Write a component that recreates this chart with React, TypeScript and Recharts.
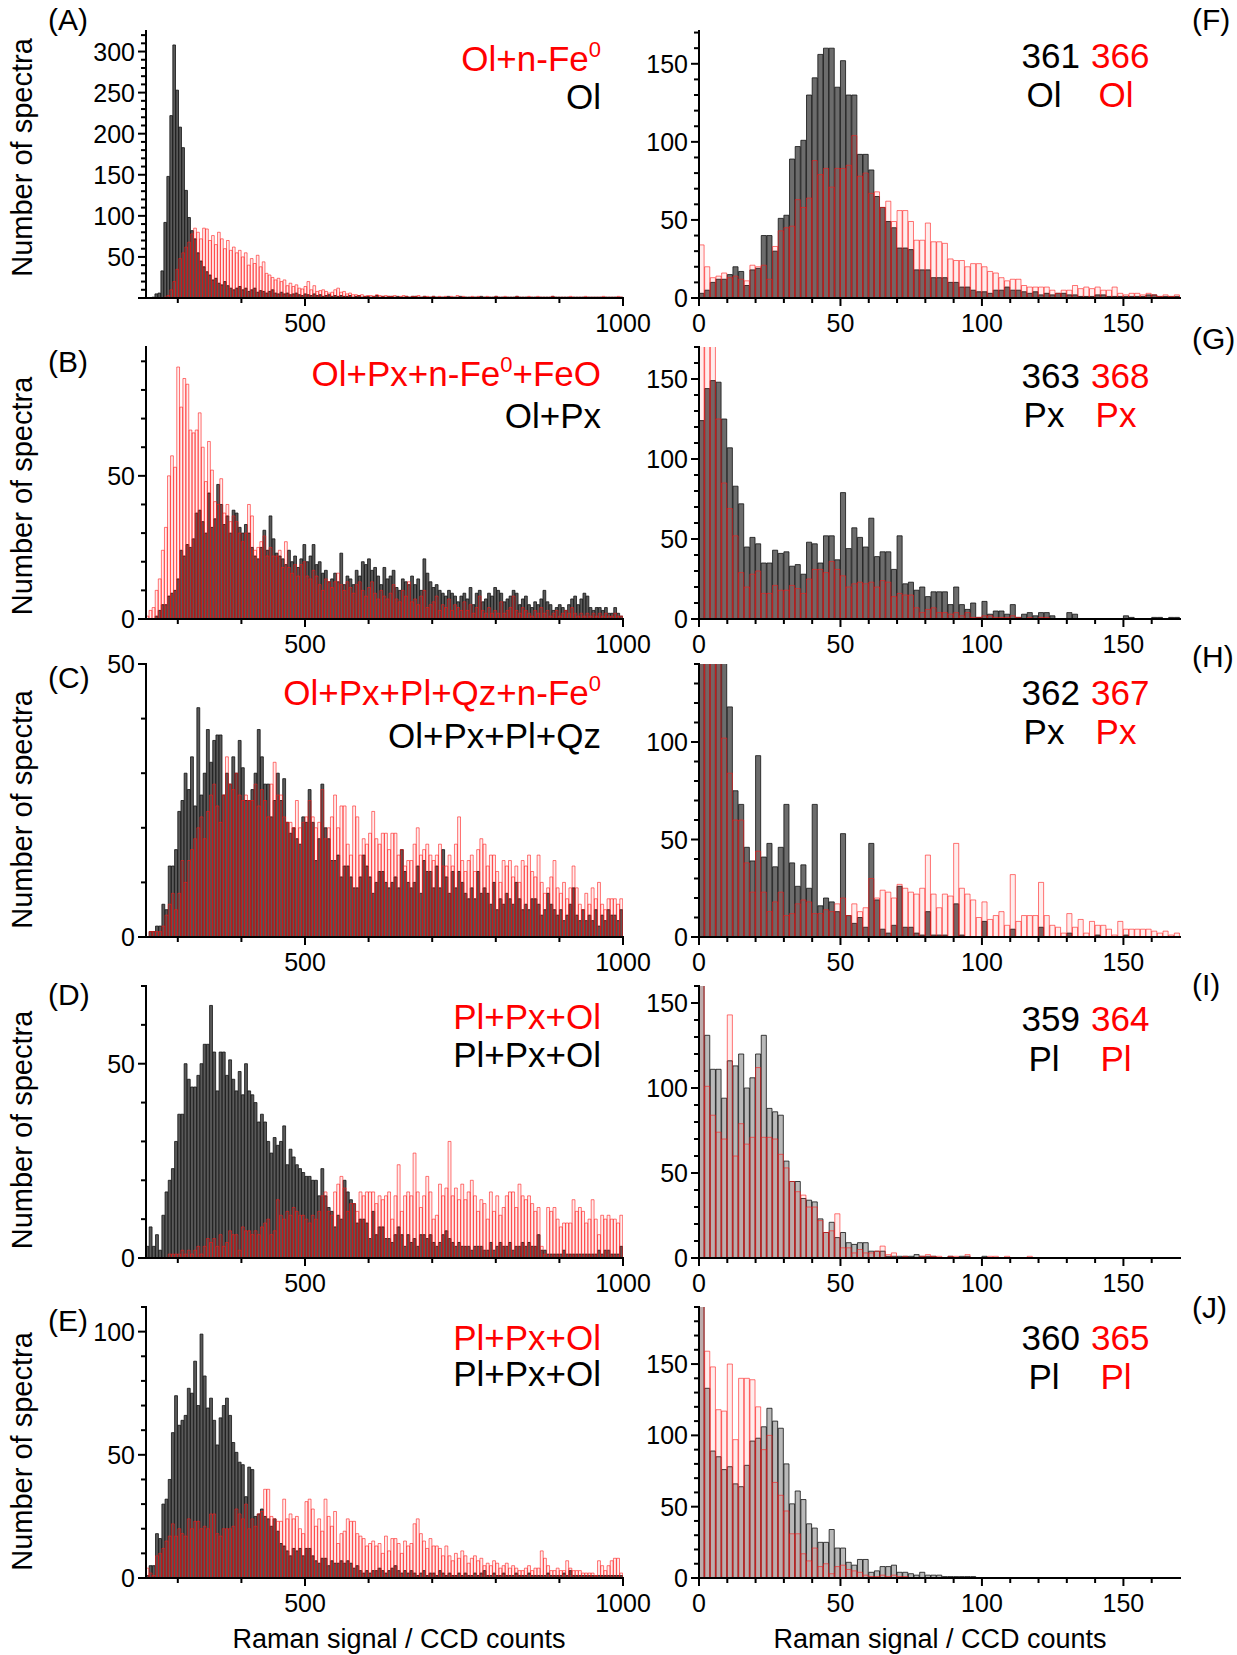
import React from "react";
import { ComposedChart, Bar, XAxis, YAxis } from "recharts";

const FONT = "'Liberation Sans', Arial, Helvetica, sans-serif";

// ---------------- data ----------------
// x ranges of the panels (bins split each range evenly)
const leftRange = [250, 1000];
const rightRange = [0, 170];

// (A) Ol / Ol+n-Fe0
const aBlack = [
  0, 0, 1, 5, 6, 33, 92, 148, 222, 308,
  253, 208, 183, 131, 98, 82, 72, 55, 45, 38,
  32, 28, 22, 24, 18, 16, 20, 15, 12, 10,
  12, 14, 10, 12, 8, 10, 12, 7, 9, 8,
  6, 8, 10, 6, 5, 7, 5, 6, 4, 5,
  6, 4, 3, 5, 4, 3, 5, 3, 4, 2,
  3, 4, 2, 3, 2, 3, 2, 2, 3, 1,
  2, 3, 1, 2, 2, 1, 2, 3, 1, 2,
  1, 2, 2, 1, 2, 1, 1, 2, 1, 2,
  2, 1, 1, 2, 1, 1, 2, 1, 1, 1,
  1, 2, 1, 1, 1, 2, 1, 1, 1, 1,
  1, 1, 2, 1, 1, 1, 1, 2, 1, 1,
  1, 1, 1, 1, 2, 1, 1, 1, 1, 1,
  1, 1, 1, 1, 1, 1, 2, 1, 1, 1,
  1, 1, 1, 1, 1, 1, 1, 1, 1, 1,
  1, 1, 1, 1, 1, 1, 1, 1, 1, 1,
];
const aRed = [
  0, 0, 0, 0, 0, 0, 1, 3, 10, 20,
  35, 48, 55, 62, 68, 78, 85, 80, 72, 85,
  84, 70, 76, 65, 80, 72, 60, 70, 58, 62,
  55, 58, 50, 55, 40, 48, 42, 52, 38, 44,
  30, 28, 25, 22, 24, 20, 22, 15, 18, 14,
  16, 12, 11, 14, 20, 10, 15, 8, 9, 10,
  8, 6, 7, 10, 12, 7, 8, 5, 6, 4,
  4, 3, 4, 2, 3, 3, 2, 4, 3, 2,
  3, 2, 2, 3, 1, 2, 3, 2, 1, 2,
  2, 3, 1, 2, 2, 1, 2, 1, 2, 1,
  2, 1, 2, 1, 3, 1, 2, 1, 1, 2,
  1, 2, 1, 1, 2, 1, 1, 2, 1, 1,
  2, 1, 1, 1, 2, 1, 1, 1, 2, 1,
  1, 2, 1, 1, 1, 1, 2, 1, 1, 1,
  1, 1, 2, 1, 1, 1, 1, 2, 1, 1,
  1, 1, 1, 2, 1, 1, 1, 1, 2, 1,
];

// (B) Ol+Px / Ol+Px+n-Fe0+FeO
const bBlack = [
  0, 0, 0, 1, 3, 5, 5, 8, 9, 10,
  14, 24, 22, 26, 25, 28, 37, 38, 34, 30,
  44, 32, 35, 47, 40, 33, 36, 30, 38, 37,
  32, 30, 33, 30, 25, 22, 21, 25, 31, 24,
  36, 28, 23, 22, 21, 19, 24, 20, 22, 18,
  21, 26, 20, 22, 26, 19, 20, 16, 17, 13,
  14, 16, 13, 23, 12, 15, 14, 12, 17, 15,
  20, 19, 21, 17, 18, 15, 12, 18, 14, 15,
  17, 11, 10, 14, 13, 12, 15, 12, 14, 10,
  21, 16, 13, 11, 12, 10, 9, 8, 10, 9,
  8, 6, 8, 9, 7, 11, 5, 9, 10, 6,
  7, 9, 8, 11, 10, 9, 6, 7, 8, 10,
  9, 5, 7, 8, 5, 4, 6, 5, 7, 10,
  6, 5, 3, 4, 5, 4, 3, 5, 7, 8,
  5, 7, 9, 8, 4, 3, 4, 4, 3, 4,
  2, 2, 4, 2, 1,
];
const bRed = [
  1, 3, 4, 10, 14, 24, 32, 50, 57, 53,
  88, 74, 84, 82, 66, 65, 66, 72, 60, 48,
  62, 52, 41, 40, 49, 37, 40, 34, 36, 34,
  30, 27, 30, 40, 36, 24, 25, 27, 29, 22,
  25, 22, 22, 24, 18, 27, 18, 16, 19, 15,
  19, 20, 15, 14, 17, 15, 12, 10, 14, 13,
  11, 13, 16, 12, 10, 13, 11, 9, 12, 13,
  10, 8, 11, 13, 9, 7, 10, 8, 7, 9,
  12, 7, 6, 10, 8, 13, 6, 7, 5, 8,
  10, 4, 5, 6, 8, 3, 5, 4, 7, 3,
  5, 4, 3, 6, 3, 5, 2, 4, 8, 3,
  2, 4, 2, 3, 2, 6, 2, 3, 4, 8,
  3, 2, 4, 3, 2, 1, 3, 2, 4, 2,
  3, 1, 2, 3, 1, 2, 3, 2, 4, 2,
  1, 2, 1, 2, 1, 2, 1, 2, 1, 2,
  1, 1, 2, 1, 1,
];

// (C) Ol+Px+Pl+Qz / Ol+Px+Pl+Qz+n-Fe0
const cBlack = [
  0, 1, 1, 2, 2, 6, 5, 13, 13, 16,
  23, 25, 30, 27, 33, 24, 42, 26, 30, 38,
  32, 36, 37, 37, 26, 30, 28, 33, 30, 36,
  31, 25, 25, 27, 30, 38, 33, 28, 28, 22,
  25, 30, 25, 29, 21, 19, 20, 18, 17, 22,
  21, 27, 21, 14, 18, 28, 20, 18, 14, 14,
  15, 11, 13, 13, 11, 9, 9, 11, 15, 13,
  11, 8, 10, 12, 12, 10, 9, 10, 11, 9,
  16, 12, 10, 9, 10, 13, 8, 14, 12, 12,
  9, 13, 9, 16, 11, 8, 12, 9, 12, 10,
  8, 7, 9, 7, 12, 8, 9, 8, 6, 10,
  5, 7, 6, 8, 7, 6, 10, 7, 5, 6,
  5, 7, 7, 6, 4, 5, 8, 6, 5, 4,
  5, 3, 4, 6, 9, 4, 3, 5, 3, 4,
  3, 5, 2, 4, 3, 5, 4, 4, 3, 5,
];
const cRed = [
  0, 1, 1, 1, 1, 2, 4, 6, 8, 5,
  8, 14, 10, 14, 16, 18, 20, 22, 18, 23,
  26, 28, 24, 21, 26, 33, 28, 27, 30, 26,
  25, 26, 25, 25, 28, 24, 27, 25, 22, 28,
  32, 26, 26, 22, 21, 21, 20, 25, 20, 21,
  22, 25, 22, 20, 21, 27, 18, 20, 22, 26,
  20, 24, 24, 17, 15, 24, 22, 15, 18, 17,
  19, 23, 18, 17, 19, 19, 16, 19, 19, 15,
  16, 13, 14, 14, 17, 20, 15, 16, 17, 15,
  14, 15, 17, 13, 13, 15, 13, 17, 22, 14,
  12, 14, 15, 12, 16, 18, 17, 13, 15, 15,
  12, 10, 14, 13, 14, 11, 13, 10, 14, 13,
  15, 12, 11, 15, 10, 8, 9, 11, 14, 9,
  8, 10, 7, 9, 13, 9, 6, 5, 8, 6,
  9, 7, 10, 6, 5, 7, 7, 7, 6, 7,
];

// (D) Pl+Px+Ol / Pl+Px+Ol
const dBlack = [
  3, 8, 3, 6, 2, 11, 17, 20, 23, 30,
  37, 37, 50, 46, 44, 44, 47, 50, 55, 55,
  65, 53, 43, 53, 53, 47, 51, 46, 43, 48,
  42, 50, 43, 42, 40, 35, 37, 35, 30, 27,
  31, 29, 30, 34, 24, 28, 26, 24, 23, 22,
  21, 21, 20, 20, 16, 23, 16, 13, 12, 8,
  11, 10, 20, 17, 15, 14, 9, 10, 10, 9,
  5, 12, 6, 8, 8, 5, 5, 4, 6, 8,
  6, 3, 6, 4, 5, 3, 6, 6, 5, 6,
  4, 3, 4, 6, 7, 5, 4, 3, 4, 3,
  3, 3, 2, 3, 3, 3, 2, 2, 4, 2,
  3, 4, 3, 3, 4, 2, 3, 3, 4, 3,
  4, 3, 3, 6, 2, 2, 1, 1, 1, 1,
  1, 2, 1, 1, 1, 1, 1, 1, 1, 1,
  1, 1, 2, 1, 2, 2, 1, 1, 1, 3,
];
const dRed = [
  0, 0, 0, 0, 0, 0, 0, 1, 1, 1,
  1, 2, 1, 2, 1, 2, 3, 1, 3, 5,
  4, 5, 3, 6, 3, 4, 7, 6, 6, 2,
  8, 7, 7, 6, 7, 6, 8, 9, 10, 6,
  7, 15, 11, 10, 12, 11, 13, 12, 11, 11,
  10, 9, 11, 10, 12, 16, 17, 12, 11, 17,
  19, 21, 18, 12, 14, 14, 12, 17, 16, 17,
  17, 17, 14, 16, 15, 16, 17, 10, 16, 24,
  12, 16, 17, 16, 27, 17, 13, 16, 21, 17,
  10, 11, 19, 16, 18, 30, 16, 18, 15, 19,
  15, 17, 20, 16, 12, 15, 14, 10, 17, 12,
  16, 11, 13, 16, 17, 17, 13, 19, 16, 15,
  16, 14, 12, 13, 3, 1, 13, 12, 13, 10,
  8, 9, 9, 9, 15, 12, 13, 12, 9, 10,
  15, 10, 6, 11, 10, 11, 10, 10, 9, 11,
];

// (E) Pl+Px+Ol / Pl+Px+Ol
const eBlack = [
  1, 5, 5, 18, 16, 30, 32, 40, 59, 74,
  62, 64, 66, 77, 75, 88, 70, 99, 82, 69,
  73, 64, 54, 65, 70, 73, 66, 55, 51, 47,
  46, 33, 45, 44, 25, 26, 28, 25, 24, 21,
  24, 19, 14, 13, 11, 9, 12, 11, 12, 9,
  12, 12, 9, 7, 6, 8, 8, 5, 7, 6,
  6, 7, 6, 7, 6, 4, 5, 3, 2, 3,
  2, 3, 3, 4, 3, 2, 3, 4, 5, 3,
  2, 3, 2, 3, 2, 1, 2, 3, 1, 2,
  2, 1, 3, 2, 1, 2, 1, 1, 2, 1,
  2, 1, 1, 2, 1, 2, 3, 1, 1, 2,
  1, 1, 2, 1, 1, 1, 2, 1, 1, 1,
  2, 1, 1, 1, 1, 1, 2, 1, 1, 1,
  1, 2, 1, 3, 1, 1, 1, 1, 1, 1,
  1, 1, 1, 1, 1, 1, 1, 1, 1, 1,
];
const eRed = [
  4, 2, 1, 9, 10, 12, 15, 17, 22, 17,
  20, 18, 17, 24, 20, 23, 23, 20, 21, 20,
  26, 26, 18, 17, 20, 20, 20, 21, 28, 26,
  24, 30, 20, 24, 21, 26, 27, 36, 36, 25,
  24, 23, 23, 32, 24, 26, 24, 25, 20, 18,
  31, 32, 28, 21, 24, 19, 32, 25, 21, 27,
  14, 18, 19, 24, 23, 23, 18, 17, 16, 13,
  14, 15, 13, 14, 10, 17, 11, 16, 16, 14,
  10, 15, 13, 14, 22, 24, 18, 15, 12, 16,
  13, 13, 12, 9, 13, 9, 7, 10, 8, 11,
  9, 6, 8, 9, 7, 8, 5, 6, 5, 7,
  6, 4, 5, 6, 4, 5, 4, 3, 3, 4,
  5, 3, 4, 4, 11, 8, 5, 3, 3, 4,
  3, 3, 7, 4, 3, 3, 3, 2, 2, 2,
  2, 1, 7, 5, 3, 5, 7, 8, 8, 2,
];

// (F) 361 Ol / 366 Ol
const fBlack = [
  3, 5, 10, 12, 12, 15, 20, 17, 8, 18,
  19, 40, 40, 30, 51, 53, 89, 97, 101, 130,
  141, 156, 160, 160, 135, 152, 130, 130, 92, 92,
  82, 65, 58, 49, 45, 32, 32, 31, 18, 18,
  18, 13, 13, 13, 10, 10, 7, 7, 5, 4,
  4, 3, 5, 5, 7, 5, 5, 4, 3, 4,
  2, 3, 2, 3, 3, 2, 2, 1, 1, 1,
  2, 2, 1, 1, 1, 1, 1, 1, 1, 2,
  2, 1, 1, 1, 1,
];
const fRed = [
  34, 20, 13, 14, 16, 13, 14, 12, 11, 21,
  20, 21, 12, 33, 43, 45, 46, 63, 58, 64,
  88, 79, 83, 71, 83, 83, 85, 104, 78, 80,
  67, 68, 58, 62, 49, 56, 56, 49, 37, 37,
  48, 36, 36, 35, 25, 24, 24, 20, 22, 22,
  20, 17, 16, 13, 11, 12, 12, 8, 7, 7,
  7, 7, 5, 3, 5, 5, 8, 6, 7, 6,
  7, 5, 5, 7, 3, 2, 3, 3, 2, 3,
  2, 1, 2, 1, 2,
];

// (G) 363 Px / 368 Px
const gBlack = [
  124, 144, 149, 148, 125, 107, 83, 72, 45, 51,
  47, 35, 35, 43, 41, 42, 33, 34, 28, 48,
  47, 35, 52, 52, 37, 79, 44, 57, 51, 45,
  63, 39, 42, 42, 31, 52, 22, 23, 18, 20,
  14, 17, 17, 17, 9, 20, 9, 6, 10, 1,
  11, 3, 5, 5, 3, 9, 1, 3, 4, 2,
  4, 4, 2, 0, 0, 4, 3, 0, 0, 0,
  0, 0, 0, 0, 0, 2, 1, 0, 0, 0,
  1, 1, 0, 1, 1,
];
const gRed = [
  220, 240, 200, 125, 85, 69, 52, 29, 20, 28,
  30, 16, 16, 21, 18, 18, 21, 19, 16, 25,
  31, 31, 29, 36, 31, 27, 20, 22, 23, 22,
  23, 20, 24, 23, 14, 16, 15, 15, 7, 4,
  6, 7, 4, 4, 3, 4, 2, 4, 1, 1,
  2, 2, 1, 1, 1, 2, 1, 0, 1, 0,
  1, 1, 0, 0, 0, 0, 0, 0, 0, 0,
  0, 0, 0, 0, 0, 0, 0, 0, 0, 0,
  0, 0, 0, 0, 0,
];

// (H) 362 Px / 367 Px
const hBlack = [
  180, 200, 190, 160, 150, 118, 75, 68, 46, 39,
  93, 41, 48, 36, 46, 68, 38, 26, 37, 25,
  68, 16, 20, 18, 13, 53, 11, 7, 10, 5,
  48, 19, 4, 2, 6, 26, 5, 5, 2, 1,
  13, 1, 1, 1, 0, 17, 1, 0, 0, 0,
  8, 0, 0, 0, 0, 4, 0, 0, 0, 0,
  5, 0, 0, 0, 0, 2, 0, 0, 0, 0,
  1, 0, 0, 0, 0, 1, 0, 0, 0, 0,
  0, 0, 0, 0, 0,
];
const hRed = [
  200, 190, 200, 170, 102, 84, 60, 60, 38, 23,
  44, 23, 13, 18, 23, 11, 12, 17, 19, 18,
  12, 12, 14, 13, 17, 20, 11, 17, 13, 15,
  30, 20, 24, 23, 20, 27, 25, 23, 22, 25,
  42, 22, 15, 22, 21, 48, 25, 22, 19, 10,
  18, 9, 11, 13, 6, 32, 8, 11, 11, 11,
  28, 11, 6, 5, 2, 12, 5, 9, 2, 8,
  6, 6, 4, 1, 8, 4, 4, 4, 4, 4,
  3, 2, 3, 1, 2,
];

// (I) 359 Pl / 364 Pl
const iBlack = [
  170, 131, 111, 111, 94, 116, 113, 120, 100, 106,
  120, 131, 88, 86, 84, 57, 45, 45, 35, 34,
  33, 23, 15, 21, 12, 15, 9, 8, 9, 9,
  4, 4, 4, 1, 1, 1, 1, 1, 2, 1,
  1, 1, 0, 0, 1, 0, 1, 1, 0, 0,
  1, 0, 0, 0, 0, 0, 0, 0, 0, 0,
  0, 0, 0, 0, 0, 0, 0, 0, 0, 0,
  0, 0, 0, 0, 0, 0, 0, 0, 0, 0,
  0, 0, 0, 0, 0,
];
const iRed = [
  175, 101, 84, 74, 70, 143, 60, 79, 67, 71,
  112, 71, 71, 70, 61, 53, 45, 39, 37, 30,
  30, 22, 15, 16, 26, 6, 6, 3, 5, 3,
  3, 4, 7, 2, 3, 0, 1, 0, 0, 1,
  2, 1, 1, 0, 1, 1, 0, 2, 0, 0,
  0, 1, 1, 0, 1, 0, 0, 0, 1, 0,
  0, 0, 0, 0, 0, 0, 0, 0, 0, 0,
  0, 0, 0, 0, 0, 0, 0, 0, 0, 0,
  0, 0, 0, 0, 0,
];

// (J) 360 Pl / 365 Pl
const jBlack = [
  210, 133, 89, 85, 76, 78, 66, 64, 79, 96,
  98, 106, 119, 110, 105, 80, 52, 61, 55, 38,
  35, 25, 25, 34, 21, 21, 11, 9, 13, 13,
  4, 5, 8, 8, 9, 4, 4, 3, 2, 4,
  2, 2, 2, 1, 1, 1, 1, 1, 1, 0,
  0, 0, 0, 0, 0, 0, 0, 0, 0, 0,
  0, 0, 0, 0, 0, 0, 0, 0, 0, 0,
  0, 0, 0, 0, 0, 0, 0, 0, 0, 0,
  0, 0, 0, 0, 0,
];
const jRed = [
  200, 159, 148, 118, 117, 150, 97, 140, 140, 139,
  120, 90, 100, 67, 58, 47, 31, 31, 17, 12,
  21, 8, 10, 3, 8, 9, 6, 5, 4, 2,
  1, 1, 2, 1, 2, 1, 1, 0, 0, 0,
  0, 0, 0, 0, 0, 0, 0, 0, 0, 0,
  0, 0, 0, 0, 0, 0, 0, 0, 0, 0,
  0, 0, 0, 0, 0, 0, 0, 0, 0, 0,
  0, 0, 0, 0, 0, 0, 0, 0, 0, 0,
  0, 0, 0, 0, 0,
];

// tick labels
const leftXLabels = [500, 1000];
const rightXLabels = [0, 50, 100, 150];
const aYLabels = [50, 100, 150, 200, 250, 300];
const bYLabels = [0, 50];
const cYLabels = [0, 50];
const dYLabels = [0, 50];
const eYLabels = [0, 50, 100];
const fYLabels = [0, 50, 100, 150];
const gYLabels = [0, 50, 100, 150];
const hYLabels = [0, 50, 100];
const iYLabels = [0, 50, 100, 150];
const jYLabels = [0, 50, 100, 150];

const leftPanels = [
  { letter: "(A)", black: aBlack, red: aRed, yMax: 325, yLabels: aYLabels, redText: ["Ol+n-Fe", "0", ""], blackText: "Ol" },
  { letter: "(B)", black: bBlack, red: bRed, yMax: 95, yLabels: bYLabels, redText: ["Ol+Px+n-Fe", "0", "+FeO"], blackText: "Ol+Px" },
  { letter: "(C)", black: cBlack, red: cRed, yMax: 50, yLabels: cYLabels, redText: ["Ol+Px+Pl+Qz+n-Fe", "0", ""], blackText: "Ol+Px+Pl+Qz" },
  { letter: "(D)", black: dBlack, red: dRed, yMax: 70, yLabels: dYLabels, redText: ["Pl+Px+Ol", "", ""], blackText: "Pl+Px+Ol" },
  { letter: "(E)", black: eBlack, red: eRed, yMax: 110, yLabels: eYLabels, redText: ["Pl+Px+Ol", "", ""], blackText: "Pl+Px+Ol" },
];

const rightPanels = [
  { letter: "(F)", black: fBlack, red: fRed, yMax: 171, yLabels: fYLabels, nums: ["361", "366"], names: ["Ol", "Ol"], light: false },
  { letter: "(G)", black: gBlack, red: gRed, yMax: 170, yLabels: gYLabels, nums: ["363", "368"], names: ["Px", "Px"], light: false },
  { letter: "(H)", black: hBlack, red: hRed, yMax: 140, yLabels: hYLabels, nums: ["362", "367"], names: ["Px", "Px"], light: false },
  { letter: "(I)", black: iBlack, red: iRed, yMax: 160, yLabels: iYLabels, nums: ["359", "364"], names: ["Pl", "Pl"], light: true },
  { letter: "(J)", black: jBlack, red: jRed, yMax: 190, yLabels: jYLabels, nums: ["360", "365"], names: ["Pl", "Pl"], light: true },
];

// ---------------- layout ----------------
const LEFT_X = 146;
const LEFT_W = 477;
const RIGHT_X = 699;
const RIGHT_W = 481;
const ROW_TOP = [31, 347, 664, 986, 1307];
const ROW_H = [267, 272, 273, 272, 271];
const LEFT_LETTER_Y = [30, 372, 688, 1005, 1331];
const RIGHT_LETTER_Y = [30, 349, 667, 995, 1318];
const TITLE_SHIFT = [-10, 10, 6, 5, 6];
const LEFT_ANN_Y = [[71, 109], [386, 428], [705, 748], [1029, 1067], [1350, 1386]];
const RIGHT_ANN_Y = [[68, 107], [388, 427], [705, 744], [1031, 1071], [1350, 1389]];

const ML = 64;
const MT = 22;
const MR = 36;
const MB = 46;
const TICK_FS = 25;

const seq = (a: number, b: number, step: number) => {
  const out: number[] = [];
  for (let v = a; v <= b + 1e-9; v += step) out.push(Math.round(v * 1000) / 1000);
  return out;
};
const isMajor = (v: number, step: number) => Math.abs(v / step - Math.round(v / step)) < 1e-6;

const mkTick = (side: "b" | "t" | "l" | "r", labels: number[], major: number) => (props: any) => {
  const { x, y, payload } = props;
  const v = payload.value as number;
  const len = isMajor(v, major) ? 8 : 5;
  const horiz = side === "l" || side === "r";
  return (
    <g>
      {horiz ? (
        <line x1={x - len} y1={y} x2={x} y2={y} stroke="#000" strokeWidth={2} />
      ) : (
        <line x1={x} y1={y} x2={x} y2={y + len} stroke="#000" strokeWidth={2} />
      )}
      {side === "b" && labels.includes(v) && (
        <text x={x} y={y + 34} textAnchor="middle" fontSize={TICK_FS} fontFamily={FONT} fill="#000">
          {v}
        </text>
      )}
      {side === "l" && labels.includes(v) && (
        <text x={x - 11} y={y + 9} textAnchor="end" fontSize={TICK_FS} fontFamily={FONT} fill="#000">
          {v}
        </text>
      )}
    </g>
  );
};

type HistProps = {
  black: number[];
  red: number[];
  x0: number;
  x1: number;
  xTicks: number[];
  xLabels: number[];
  xMajor: number;
  yMax: number;
  yLabels: number[];
  left: number;
  top: number;
  w: number;
  h: number;
  blackFill: string;
};

const frame = { stroke: "#000", strokeWidth: 2, strokeLinecap: "square" as const };

function Hist(p: HistProps) {
  const bin = (p.x1 - p.x0) / p.black.length;
  const data = p.black.map((k, i) => ({ x: p.x0 + bin * (i + 0.5), k, r: p.red[i] }));
  const barW = (bin / (p.x1 - p.x0)) * p.w;
  const yTicks = seq(0, p.yMax, 10);
  return (
    <div style={{ position: "absolute", left: p.left - ML, top: p.top - MT }}>
      <ComposedChart
        width={ML + p.w + MR}
        height={MT + p.h + MB}
        data={data}
        margin={{ top: MT, right: MR, bottom: 0, left: 0 }}
      >
        <XAxis
          xAxisId="b"
          dataKey="x"
          type="number"
          domain={[p.x0, p.x1]}
          ticks={p.xTicks}
          allowDataOverflow
          interval={0}
          height={MB}
          tickLine={false}
          tickSize={0}
          tickMargin={0}
          axisLine={frame}
          tick={mkTick("b", p.xLabels, p.xMajor)}
        />
        <XAxis
          xAxisId="t"
          orientation="top"
          dataKey="x"
          type="number"
          domain={[p.x0, p.x1]}
          ticks={p.xTicks}
          allowDataOverflow
          interval={0}
          height={0}
          tickLine={false}
          tickSize={0}
          tickMargin={0}
          axisLine={frame}
          tick={mkTick("t", [], p.xMajor)}
        />
        <YAxis
          yAxisId="l"
          type="number"
          domain={[0, p.yMax]}
          ticks={yTicks}
          allowDataOverflow
          interval={0}
          width={ML}
          tickLine={false}
          tickSize={0}
          tickMargin={0}
          axisLine={frame}
          tick={mkTick("l", p.yLabels, 50)}
        />
        <YAxis
          yAxisId="r"
          orientation="right"
          type="number"
          domain={[0, p.yMax]}
          ticks={yTicks}
          allowDataOverflow
          interval={0}
          width={0}
          tickLine={false}
          tickSize={0}
          tickMargin={0}
          axisLine={frame}
          tick={mkTick("r", [], 50)}
        />
        <Bar
          xAxisId="b"
          yAxisId="l"
          dataKey="k"
          barSize={barW}
          fill={p.blackFill}
          stroke="#111"
          strokeWidth={0.8}
          isAnimationActive={false}
        />
        <Bar
          xAxisId="t"
          yAxisId="r"
          dataKey="r"
          barSize={barW}
          fill="rgba(255,0,0,0.07)"
          stroke="#ff1a1a"
          strokeWidth={0.6}
          isAnimationActive={false}
        />
      </ComposedChart>
    </div>
  );
}

const txt = { fontFamily: FONT };

export default function App() {
  const leftXTicks = seq(300, 1000, 100);
  const rightXTicks = seq(0, 160, 10);
  return (
    <div style={{ position: "absolute", left: 0, top: 0, width: 1237, height: 1655, background: "#fff" }}>
      {leftPanels.map((p, i) => (
        <Hist
          key={p.letter}
          black={p.black}
          red={p.red}
          x0={leftRange[0]}
          x1={leftRange[1]}
          xTicks={leftXTicks}
          xLabels={leftXLabels}
          xMajor={500}
          yMax={p.yMax}
          yLabels={p.yLabels}
          left={LEFT_X}
          top={ROW_TOP[i]}
          w={LEFT_W}
          h={ROW_H[i]}
          blackFill="#5a5a5a"
        />
      ))}
      {rightPanels.map((p, i) => (
        <Hist
          key={p.letter}
          black={p.black}
          red={p.red}
          x0={rightRange[0]}
          x1={rightRange[1]}
          xTicks={rightXTicks}
          xLabels={rightXLabels}
          xMajor={50}
          yMax={p.yMax}
          yLabels={p.yLabels}
          left={RIGHT_X}
          top={ROW_TOP[i]}
          w={RIGHT_W}
          h={ROW_H[i]}
          blackFill={p.light ? "#b9b9b9" : "#6c6c6c"}
        />
      ))}
      <svg
        width={1237}
        height={1655}
        style={{ position: "absolute", left: 0, top: 0, pointerEvents: "none" }}
      >
        {leftPanels.map((p, i) => {
          const cy = ROW_TOP[i] + ROW_H[i] / 2 + 3 + TITLE_SHIFT[i];
          const [ry, ky] = LEFT_ANN_Y[i];
          return (
            <g key={p.letter} style={txt}>
              <text x={48} y={LEFT_LETTER_Y[i]} fontSize={30} fill="#000">
                {p.letter}
              </text>
              <text transform={`translate(32 ${cy}) rotate(-90)`} textAnchor="middle" fontSize={29} fill="#000">
                Number of spectra
              </text>
              <text x={601} y={ry} textAnchor="end" fontSize={35} fill="#ff0000">
                {p.redText[0]}
                {p.redText[1] && (
                  <tspan dy={-14} fontSize={22}>
                    {p.redText[1]}
                  </tspan>
                )}
                {p.redText[2] && <tspan dy={14}>{p.redText[2]}</tspan>}
              </text>
              <text x={601} y={ky} textAnchor="end" fontSize={35} fill="#000">
                {p.blackText}
              </text>
            </g>
          );
        })}
        {rightPanels.map((p, i) => {
          const [ny, ly] = RIGHT_ANN_Y[i];
          return (
            <g key={p.letter} style={txt}>
              <text x={1192} y={RIGHT_LETTER_Y[i]} fontSize={30} fill="#000">
                {p.letter}
              </text>
              <text x={1080} y={ny} textAnchor="end" fontSize={35} fill="#000">
                {p.nums[0]}
              </text>
              <text x={1091} y={ny} textAnchor="start" fontSize={35} fill="#ff0000">
                {p.nums[1]}
              </text>
              <text x={1044} y={ly} textAnchor="middle" fontSize={35} fill="#000">
                {p.names[0]}
              </text>
              <text x={1116} y={ly} textAnchor="middle" fontSize={35} fill="#ff0000">
                {p.names[1]}
              </text>
            </g>
          );
        })}
        <text x={399} y={1648} textAnchor="middle" fontSize={27} fill="#000" style={txt}>
          Raman signal / CCD counts
        </text>
        <text x={940} y={1648} textAnchor="middle" fontSize={27} fill="#000" style={txt}>
          Raman signal / CCD counts
        </text>
      </svg>
    </div>
  );
}
